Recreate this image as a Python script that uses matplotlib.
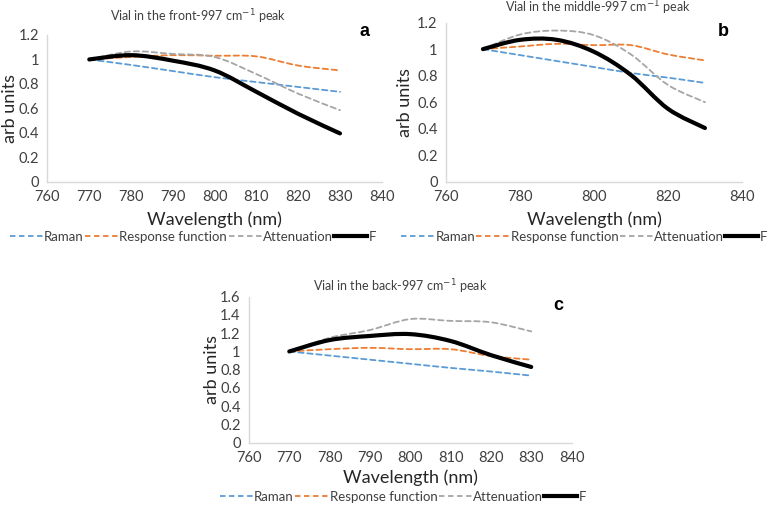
import matplotlib.pyplot as plt
from matplotlib.path import Path
from matplotlib.patches import PathPatch
from matplotlib.lines import Line2D

plt.rcParams['font.family'] = ['Lato', 'DejaVu Sans']

wavelength = [770, 780, 790, 800, 810, 820, 830]

# panel a - vial in the front
raman_a = [1.0, 0.955, 0.905, 0.855, 0.815, 0.775, 0.735]
resp_a = [1.0, 1.02, 1.035, 1.03, 1.025, 0.95, 0.91]
atten_a = [1.0, 1.065, 1.045, 1.02, 0.88, 0.72, 0.585]
f_a = [1.0, 1.035, 0.99, 0.91, 0.735, 0.555, 0.395]

# panel b - vial in the middle
raman_b = [1.0, 0.955, 0.91, 0.865, 0.82, 0.785, 0.745]
resp_b = [1.0, 1.02, 1.04, 1.03, 1.03, 0.96, 0.915]
atten_b = [1.0, 1.11, 1.14, 1.105, 0.96, 0.73, 0.6]
f_b = [1.0, 1.07, 1.07, 0.98, 0.805, 0.55, 0.405]

# panel c - vial in the back
raman_c = [1.0, 0.955, 0.91, 0.865, 0.82, 0.78, 0.735]
resp_c = [1.0, 1.025, 1.04, 1.025, 1.025, 0.95, 0.91]
atten_c = [1.0, 1.15, 1.235, 1.355, 1.335, 1.32, 1.22]
f_c = [1.0, 1.125, 1.17, 1.19, 1.115, 0.96, 0.83]

names = ['Raman', 'Response function', 'Attenuation', 'F']
colors = ['#5B9BD5', '#ED7D31', '#A5A5A5', '#000000']


def smooth_path(x, y):
    # excel-like smoothed line, bezier through the data points
    verts = [(x[0], y[0])]
    codes = [Path.MOVETO]
    n = len(x)
    for i in range(n - 1):
        x0, y0 = (x[i - 1], y[i - 1]) if i > 0 else (x[i], y[i])
        x3, y3 = (x[i + 2], y[i + 2]) if i + 2 < n else (x[i + 1], y[i + 1])
        c1 = (x[i] + (x[i + 1] - x0) / 6, y[i] + (y[i + 1] - y0) / 6)
        c2 = (x[i + 1] - (x3 - x[i]) / 6, y[i + 1] - (y3 - y[i]) / 6)
        verts += [c1, c2, (x[i + 1], y[i + 1])]
        codes += [Path.CURVE4] * 3
    return Path(verts, codes)


fig = plt.figure(figsize=(7.81, 5.05), dpi=100)

panels = [
    ([0.0608, 0.6402, 0.428, 0.2905], [raman_a, resp_a, atten_a, f_a], 1.2, 10,
     'Vial in the front-997 cm$^{-1}$ peak', (0.2535, 0.966), 'a', (0.467, 0.937),
     0.564, 0.0128, 0.531, 0.247),
    ([0.571, 0.6402, 0.379, 0.315], [raman_b, resp_b, atten_b, f_b], 1.2, 20,
     'Vial in the middle-997 cm$^{-1}$ peak', (0.766, 0.984), 'b', (0.926, 0.937),
     0.564, 0.5186, 0.531, 0.748),
    ([0.3188, 0.1234, 0.413, 0.289], [raman_c, resp_c, atten_c, f_c], 1.6, 10,
     'Vial in the back-997 cm$^{-1}$ peak', (0.512, 0.432), 'c', (0.7145, 0.396),
     0.0535, 0.271, 0.016, 0.516),
]

for rect, series, ymax, xstep, title, tpos, letter, lpos, xly, ylx, legy, legx in panels:
    ax = fig.add_axes(rect)
    handles = []
    for vals, name, col in zip(series, names, colors):
        if name == 'F':
            lw, ls = 3.0, '-'
        else:
            lw, ls = 1.3, (0, (3, 2))
        ax.add_patch(PathPatch(smooth_path(wavelength, vals), fill=False,
                               edgecolor=col, lw=lw, linestyle=ls,
                               capstyle='round', joinstyle='round'))
        handles.append(Line2D([], [], color=col, lw=lw, linestyle=ls))
    ax.set_xlim(760, 840)
    ax.set_ylim(0, ymax)
    ax.set_xticks(range(760, 841, xstep))
    yt = [round(v * 0.2, 1) for v in range(int(round(ymax / 0.2)) + 1)]
    ax.set_yticks(yt)
    ax.set_yticklabels(['{:g}'.format(v) for v in yt])
    for s in ['top', 'right']:
        ax.spines[s].set_visible(False)
    for s in ['left', 'bottom']:
        ax.spines[s].set_color('#d9d9d9')
        ax.spines[s].set_linewidth(1.0)
    ax.tick_params(length=0, labelsize=10.5, colors='#404040', pad=6)
    cx = rect[0] + rect[2] / 2
    fig.text(tpos[0], tpos[1], title, ha='center', va='center', fontsize=9, color='#404040')
    fig.text(lpos[0], lpos[1], letter, ha='center', va='center', fontsize=13,
             fontweight='bold', family='Liberation Sans')
    fig.text(cx, xly, 'Wavelength (nm)', ha='center', va='center', fontsize=13, color='#262626')
    fig.text(ylx, rect[1] + rect[3] / 2, 'arb units', ha='center', va='center',
             rotation=90, fontsize=13, color='#262626')
    fig.legend(handles, names, loc='center', bbox_to_anchor=(legx, legy), ncol=4,
               frameon=False, fontsize=9.5, handlelength=2.5, handletextpad=0.1,
               columnspacing=0.1, labelcolor='#404040', borderpad=0.1)

fig.savefig('out.png', dpi=100)
